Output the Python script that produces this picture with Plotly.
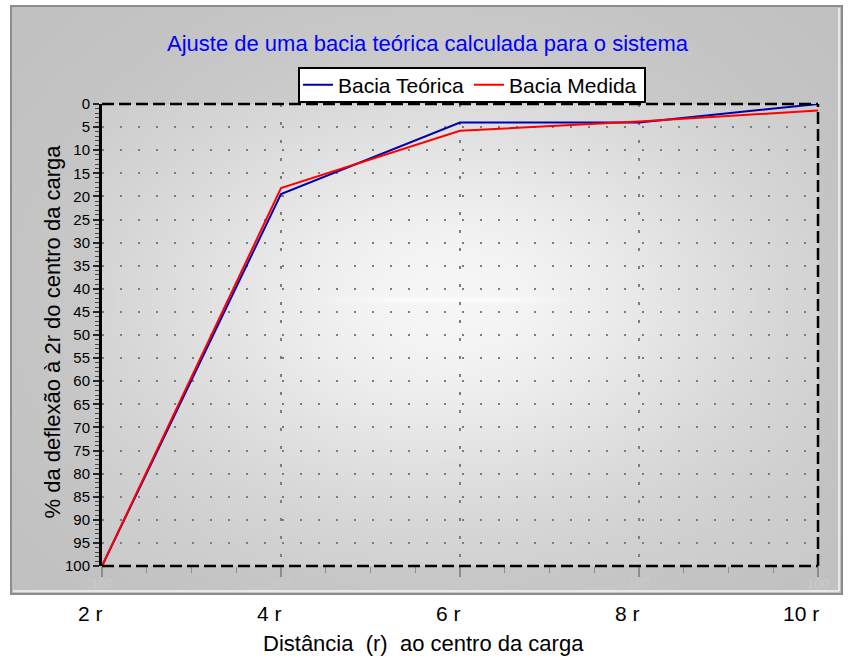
import base64
import struct
import zlib

import numpy as np
import plotly.graph_objects as go

# Distance from the load centre (multiples of r) and deflection as % of the deflection at 2r
distancia = [2, 4, 6, 8, 10]
bacia_teorica = [100, 19.5, 4.0, 4.0, 0.0]
bacia_medida = [100, 18.2, 5.8, 3.8, 1.4]
rotulos_x = ["2 r", "4 r", "6 r", "8 r", "10 r"]

W, H = 850, 659
ML, MR, MT, MB = 102, 32, 104, 93
PW = W - ML - MR
PH = H - MT - MB
FONT = "Liberation Sans, Arial, sans-serif"


def fx(px):
    return (px - ML) / PW


def fy(py):
    return (H - MB - py) / PH


def png_gray(arr):
    h, w = arr.shape
    raw = b"".join(b"\x00" + arr[i].tobytes() for i in range(h))

    def chunk(tag, data):
        body = tag + data
        return struct.pack(">I", len(data)) + body + struct.pack(">I", zlib.crc32(body) & 0xFFFFFFFF)

    png = (b"\x89PNG\r\n\x1a\n"
           + chunk(b"IHDR", struct.pack(">IIBBBBB", w, h, 8, 0, 0, 0, 0))
           + chunk(b"IDAT", zlib.compress(raw, 9))
           + chunk(b"IEND", b""))
    return "data:image/png;base64," + base64.b64encode(png).decode()


# Grey panel with radial shading; brighter shading inside the plotting area
PX0, PX1, PY0, PY1 = 11, 842, 6, 594
ys, xs = np.mgrid[PY0:PY1, PX0:PX1].astype(float) + 0.5
panel = 191 + 26 * np.exp(-1.5 * (((xs - 430) / 420) ** 2 + ((ys - 300) / 330) ** 2))
inner = 200 + 46 * np.exp(-1.3 * (((xs - 450) / 360) ** 2 + ((ys - 300) / 245) ** 2))
streak = 7 * np.exp(-((ys - 300) / 3.0) ** 2) * np.exp(-((xs - 450) / 110) ** 4)
inside = (xs >= ML) & (xs <= W - MR) & (ys >= MT) & (ys <= H - MB)
bg = np.where(inside, inner + streak, panel)
bg_img = png_gray(np.clip(bg, 0, 255).astype(np.uint8))

fig = go.Figure()
fig.add_trace(go.Scatter(x=distancia, y=bacia_teorica, mode="lines", name="Bacia Teórica",
                         line=dict(color="rgb(0,0,170)", width=2)))
fig.add_trace(go.Scatter(x=distancia, y=bacia_medida, mode="lines", name="Bacia Medida",
                         line=dict(color="rgb(255,0,0)", width=2)))

fig.add_layout_image(dict(source=bg_img, xref="paper", yref="paper",
                          x=fx(PX0), y=fy(PY0), sizex=(PX1 - PX0) / PW, sizey=(PY1 - PY0) / PH,
                          xanchor="left", yanchor="top", sizing="stretch", layer="below"))

dash_frame = dict(color="black", width=2.5, dash="12px,5px")
shapes = [
    # panel border with a light bevel on the lower and right edges
    dict(type="rect", xref="paper", yref="paper", x0=fx(PX0), x1=fx(PX1), y0=fy(PY1), y1=fy(PY0),
         line=dict(color="rgb(140,140,140)", width=2), layer="below"),
    dict(type="line", xref="paper", yref="paper", x0=fx(PX0 + 2), x1=fx(PX1 - 3), y0=fy(PY1 - 3), y1=fy(PY1 - 3),
         line=dict(color="rgb(245,245,245)", width=1.5), layer="below"),
    dict(type="line", xref="paper", yref="paper", x0=fx(PX1 - 3), x1=fx(PX1 - 3), y0=fy(PY1 - 3), y1=fy(PY0 + 2),
         line=dict(color="rgb(245,245,245)", width=1.5), layer="below"),
    # dashed frame around the plotting area
    dict(type="line", xref="paper", yref="paper", x0=0, x1=1, y0=1, y1=1, line=dash_frame, layer="above"),
    dict(type="line", xref="paper", yref="paper", x0=1, x1=1, y0=0, y1=1, line=dash_frame, layer="above"),
    dict(type="line", xref="paper", yref="paper", x0=0, x1=1, y0=0, y1=0, line=dash_frame, layer="above"),
    # legend box
    dict(type="rect", xref="paper", yref="paper", x0=fx(299), x1=fx(645), y0=fy(102), y1=fy(68),
         fillcolor="white", line=dict(color="black", width=2), layer="above"),
]

annotations = [
    dict(text="Ajuste de uma bacia teórica calculada para o sistema", xref="paper", yref="paper",
         x=fx(427.5), y=fy(44), xanchor="center", yanchor="middle", showarrow=False,
         font=dict(family=FONT, size=22, color="rgb(0,0,255)")),
    dict(text="% da deflexão à 2r do centro da carga", xref="paper", yref="paper",
         x=fx(52), y=fy(331.5), xanchor="center", yanchor="middle", textangle=-90, showarrow=False,
         font=dict(family=FONT, size=22, color="black")),
    dict(text="Distância \u00a0(r) \u00a0ao centro da carga", xref="paper", yref="paper",
         x=fx(423), y=fy(643), xanchor="center", yanchor="middle", showarrow=False,
         font=dict(family=FONT, size=22, color="black")),
]
for xv, lab in zip(distancia, rotulos_x):
    annotations.append(dict(text=lab, x=xv, xref="x", y=fy(613), yref="paper", xanchor="right",
                            xshift=3, yanchor="middle", showarrow=False,
                            font=dict(family=FONT, size=21, color="black")))
    annotations.append(dict(text="100", x=xv, xref="x", y=fy(583), yref="paper", xanchor="center",
                            yanchor="middle", showarrow=False,
                            font=dict(family=FONT, size=13, color="rgb(203,203,203)")))

fig.update_layout(
    width=W, height=H,
    margin=dict(l=ML, r=MR, t=MT, b=MB, pad=0),
    paper_bgcolor="white",
    plot_bgcolor="rgba(0,0,0,0)",
    font=dict(family=FONT, color="black"),
    showlegend=True,
    legend=dict(orientation="h", x=fx(298), xanchor="left", y=fy(85), yanchor="middle",
                bgcolor="rgba(0,0,0,0)", borderwidth=0,
                font=dict(family=FONT, size=21, color="black"), itemclick=False, itemdoubleclick=False),
    shapes=shapes,
    annotations=annotations,
    xaxis=dict(range=[2, 10], tickmode="array", tickvals=distancia, showticklabels=False,
               ticks="outside", ticklen=10, tickwidth=1.5, tickcolor="rgb(140,140,140)",
               minor=dict(dtick=0.5, ticks="outside", ticklen=6, tickwidth=1.2,
                          tickcolor="rgb(140,140,140)", showgrid=False),
               showgrid=True, gridcolor="rgb(125,125,125)", gridwidth=1.5, griddash="3px,15px",
               showline=False, zeroline=False, fixedrange=True),
    yaxis=dict(range=[100, 0], dtick=5, tick0=0, ticks="outside", ticklen=6, tickwidth=1.5,
               tickcolor="rgb(40,40,40)",
               minor=dict(dtick=1, ticks="outside", ticklen=4, tickwidth=1.2,
                          tickcolor="rgb(70,70,70)", showgrid=False),
               tickfont=dict(family=FONT, size=15, color="black"),
               showgrid=True, gridcolor="rgb(125,125,125)", gridwidth=1.5, griddash="2px,16px",
               showline=True, linewidth=3, linecolor="black", zeroline=False, fixedrange=True),
)

fig.write_html("out.html", config={"displayModeBar": False})
